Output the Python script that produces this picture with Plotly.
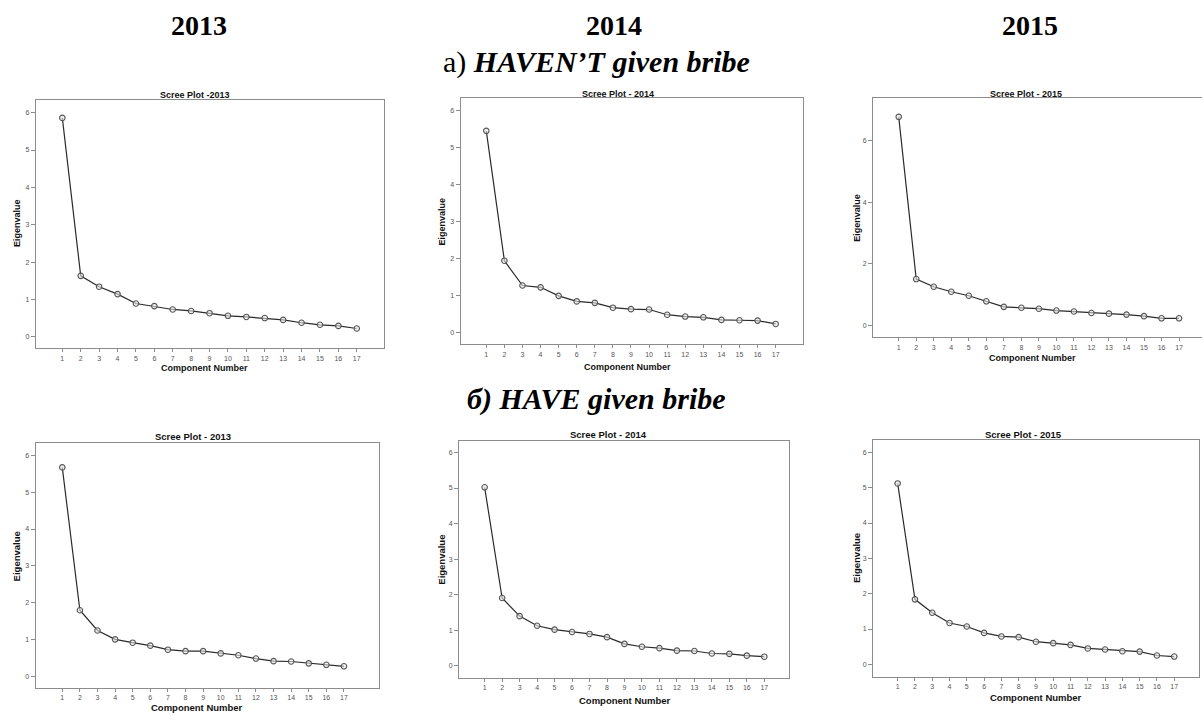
import plotly.graph_objects as go

W, H = 1202, 715

components = list(range(1, 18))
x_tick_labels = [str(i) for i in components]

# a) HAVEN'T given bribe
not_given_2013 = [5.86, 1.63, 1.34, 1.14, 0.89, 0.82, 0.73, 0.69, 0.63, 0.56, 0.53, 0.50, 0.45, 0.375, 0.32, 0.29, 0.22]
not_given_2014 = [5.46, 1.95, 1.28, 1.23, 1.00, 0.85, 0.81, 0.68, 0.64, 0.63, 0.49, 0.44, 0.42, 0.35, 0.34, 0.33, 0.24]
not_given_2015 = [6.76, 1.51, 1.26, 1.10, 0.97, 0.79, 0.61, 0.58, 0.55, 0.49, 0.46, 0.41, 0.39, 0.36, 0.31, 0.24, 0.24]
# б) HAVE given bribe
given_2013 = [5.67, 1.80, 1.25, 1.01, 0.92, 0.84, 0.73, 0.69, 0.69, 0.63, 0.58, 0.49, 0.42, 0.41, 0.36, 0.32, 0.28]
given_2014 = [5.02, 1.91, 1.40, 1.13, 1.02, 0.955, 0.90, 0.81, 0.62, 0.54, 0.50, 0.43, 0.42, 0.35, 0.34, 0.29, 0.26]
given_2015 = [5.12, 1.84, 1.46, 1.17, 1.07, 0.89, 0.79, 0.77, 0.64, 0.60, 0.55, 0.45, 0.42, 0.37, 0.36, 0.25, 0.22]

years = ["2013", "2014", "2015"]
panel_titles = ["Scree Plot -2013", "Scree Plot - 2014", "Scree Plot - 2015",
                "Scree Plot - 2013", "Scree Plot - 2014", "Scree Plot - 2015"]
series = [not_given_2013, not_given_2014, not_given_2015, given_2013, given_2014, given_2015]
section_labels = ["a) <b><i>HAVEN’T given bribe</i></b>", "<b><i>б) HAVE given bribe</i></b>"]
x_title = "Component Number"
y_title = "Eigenvalue"

# layout geometry (pixels): frame left, top, right, bottom ; x range ; y range ; y dtick
panels = [
    dict(f=(36, 100, 384, 348.3), xr=(-0.43, 18.48), yr=(-0.31, 6.34), dt=1,
         title=(195, 95), ylab=(17, 223), xlab=(205, 368), right=True, fs=9),
    dict(f=(460.7, 98.3, 803, 344.3), xr=(-0.415, 18.51), yr=(-0.31, 6.34), dt=1,
         title=(618, 94), ylab=(441.7, 221.7), xlab=(627, 367), right=True, fs=9),
    dict(f=(873.3, 98.3, 1202, 337.3), xr=(-0.45, 18.31), yr=(-0.375, 7.36), dt=2,
         title=(1026, 94), ylab=(856.7, 218), xlab=(1032, 358), right=False, fs=9),
    dict(f=(35.7, 442.7, 379, 687.7), xr=(-0.51, 18.99), yr=(-0.30, 6.34), dt=1,
         title=(193, 436), ylab=(16.7, 556.7), xlab=(197, 707), right=True, fs=9.5),
    dict(f=(459.3, 440.7, 789.3, 677.7), xr=(-0.45, 18.43), yr=(-0.33, 6.33), dt=1,
         title=(608, 434.7), ylab=(440.7, 560), xlab=(625, 700), right=True, fs=9.5),
    dict(f=(873.3, 440, 1199.3, 676.7), xr=(-0.41, 18.45), yr=(-0.35, 6.35), dt=1,
         title=(1023, 434.7), ylab=(856, 558), xlab=(1036, 697), right=True, fs=9.5),
]

FRAME = "#8c8c8c"
TICKFONT = dict(family="Liberation Sans, Arial", size=7, color="#555555")
LABFONT = "Liberation Sans, Arial"

fig = go.Figure()
layout = dict(width=W, height=H, margin=dict(l=0, r=0, t=0, b=0),
              paper_bgcolor="white", plot_bgcolor="white", showlegend=False)
annotations = []

def px(x):
    return x / W

def py(y):
    return 1 - y / H

for i, (p, vals) in enumerate(zip(panels, series)):
    n = i + 1
    xa = "xaxis" if n == 1 else f"xaxis{n}"
    ya = "yaxis" if n == 1 else f"yaxis{n}"
    xref = "x" if n == 1 else f"x{n}"
    yref = "y" if n == 1 else f"y{n}"
    l, t, r, b = p["f"]
    fig.add_trace(go.Scatter(
        x=components, y=vals, xaxis=xref, yaxis=yref, mode="lines+markers",
        line=dict(color="#2a2a2a", width=1.2),
        marker=dict(symbol="circle", size=5.5, color="rgba(230,230,230,0.6)",
                    line=dict(color="#555555", width=1.1)),
        hoverinfo="x+y"))
    layout[xa] = dict(domain=[px(l), min(px(r), 1)], range=list(p["xr"]), anchor=yref,
                      tickmode="array", tickvals=components, ticktext=x_tick_labels,
                      ticks="outside", ticklen=3, tickcolor=FRAME, tickwidth=1,
                      tickfont=TICKFONT, showgrid=False, zeroline=False,
                      showline=True, linecolor=FRAME, linewidth=1.3, mirror=True,
                      fixedrange=True)
    layout[ya] = dict(domain=[py(b), py(t)], range=list(p["yr"]), anchor=xref,
                      dtick=p["dt"], tick0=0, ticks="outside", ticklen=4,
                      tickcolor=FRAME, tickwidth=1, tickfont=TICKFONT,
                      showgrid=False, zeroline=False, showline=True,
                      linecolor=FRAME, linewidth=1.3, mirror=p["right"],
                      fixedrange=True)
    annotations.append(dict(text=f"<b>{panel_titles[i]}</b>", x=px(p["title"][0]), y=py(p["title"][1]),
                            xref="paper", yref="paper", showarrow=False, xanchor="center", yanchor="middle",
                            font=dict(family=LABFONT, size=p["fs"], color="#111111")))
    annotations.append(dict(text=f"<b>{y_title}</b>", x=px(p["ylab"][0]), y=py(p["ylab"][1]),
                            xref="paper", yref="paper", showarrow=False, textangle=-90,
                            xanchor="center", yanchor="middle",
                            font=dict(family=LABFONT, size=p["fs"], color="#111111")))
    annotations.append(dict(text=f"<b>{x_title}</b>", x=px(p["xlab"][0]), y=py(p["xlab"][1]),
                            xref="paper", yref="paper", showarrow=False,
                            xanchor="center", yanchor="middle",
                            font=dict(family=LABFONT, size=p["fs"], color="#111111")))

# column headers (years)
for yr_txt, cx in zip(years, [199, 614, 1030]):
    annotations.append(dict(text=f"<b>{yr_txt}</b>", x=px(cx), y=py(25), xref="paper", yref="paper",
                            showarrow=False, xanchor="center", yanchor="middle",
                            font=dict(family="Liberation Serif, Times New Roman", size=28, color="black")))

for lab, cy in zip(section_labels, [62, 399]):
    annotations.append(dict(text=lab, x=px(596), y=py(cy), xref="paper", yref="paper",
                            showarrow=False, xanchor="center", yanchor="middle",
                            font=dict(family="Liberation Serif, Times New Roman", size=30, color="black")))

layout["annotations"] = annotations
fig.update_layout(**layout)
fig.write_html("out.html", config={"displayModeBar": False},
               post_script="document.body.style.margin='0';document.body.style.overflow='hidden';")
